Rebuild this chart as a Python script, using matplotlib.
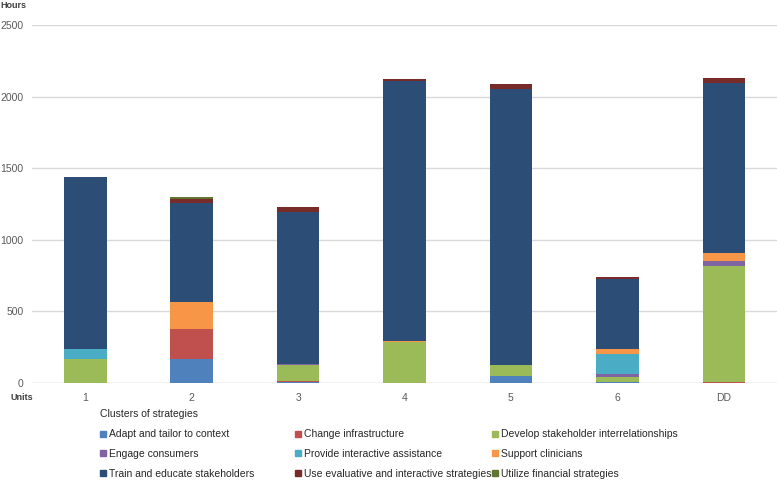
import matplotlib
matplotlib.use("Agg")
import matplotlib.pyplot as plt
from matplotlib.lines import Line2D
import numpy as np

plt.rcParams['font.family'] = ['Liberation Sans', 'DejaVu Sans']

units = ["1", "2", "3", "4", "5", "6", "DD"]

clusters = ["Adapt and tailor to context", "Change infrastructure",
            "Develop stakeholder interrelationships", "Engage consumers",
            "Provide interactive assistance", "Support clinicians",
            "Train and educate stakeholders", "Use evaluative and interactive strategies",
            "Utilize financial strategies"]

# hours per cluster, one value per unit (1..6, DD)
adapt    = [0,   167, 8,    0,    51,   7,   0]
change   = [0,   208, 6,    0,    0,    0,   10]
develop  = [165, 0,   115,  285,  72,   35,  807]
engage   = [0,   0,   2,    0,    0,    19,  37]
provide  = [70,  0,   0,    0,    0,    141, 0]
support  = [0,   190, 4,    5,    0,    33,  56]
train    = [1205, 689, 1056, 1820, 1927, 489, 1183]
use_eval = [0,   32,  35,   12,   37,   18,  35]
utilize  = [0,   10,  0,    0,    0,    0,   0]

series = [adapt, change, develop, engage, provide, support, train, use_eval, utilize]
colors = ["#4F81BD", "#C0504D", "#9BBB59", "#8064A2", "#4BACC6",
          "#F79646", "#2C4D75", "#772C2A", "#5F7530"]

fig = plt.figure(figsize=(7.77, 4.8), dpi=100)
ax = fig.add_axes([0.0412, 0.2021, 0.9588, 0.7459])

x = np.arange(len(units))
bottom = np.zeros(len(units))
for vals, c in zip(series, colors):
    ax.bar(x, vals, width=0.4, bottom=bottom, color=c, zorder=3)
    bottom += np.array(vals)

ax.set_xlim(-0.5, 6.5)
ax.set_ylim(0, 2500)
ax.set_yticks(range(0, 2501, 500))
ax.set_xticks(x)
ax.set_xticklabels(units)
ax.grid(axis='y', color='#D9D9D9', linewidth=1, zorder=0)
for s in ["top", "right", "left", "bottom"]:
    ax.spines[s].set_visible(False)
ax.axhline(0, color='#D9D9D9', linewidth=1, zorder=2)
ax.tick_params(axis='y', length=0, labelsize=7.5, colors='#595959', pad=6)
ax.tick_params(axis='x', length=0, labelsize=7.5, colors='#595959', pad=7)

fig.text(0.0, 0.988, "Hours", fontsize=6.5, fontweight='bold', color='#404040', va='center')
fig.text(0.013, 0.171, "Units", fontsize=6.5, fontweight='bold', color='#404040', va='center')

# legend drawn as three columns, filled row by row like the original
handles = [Line2D([], [], marker='s', linestyle='none', markersize=5,
                  color=c) for c in colors]
col_x = [0.1215, 0.373, 0.626]
for j in range(3):
    idx = [j, j + 3, j + 6]
    leg = fig.legend([handles[i] for i in idx], [clusters[i] for i in idx],
                     ncol=1, loc='upper left', bbox_to_anchor=(col_x[j], 0.158),
                     frameon=False, fontsize=7.5,
                     title="Clusters of strategies" if j == 0 else " ",
                     title_fontsize=7.5, alignment='left', handlelength=0.6,
                     handletextpad=0.3, labelspacing=0.94, borderpad=0.0)
    for t in leg.get_texts():
        t.set_color('#262626')
    leg.get_title().set_color('#262626')

fig.savefig("out.png", dpi=100)
